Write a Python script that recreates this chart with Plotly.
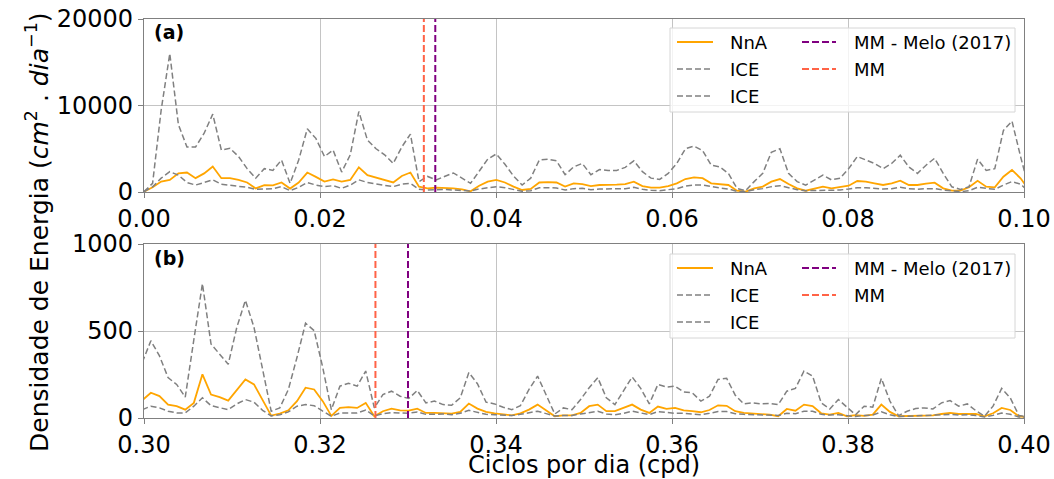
import plotly.graph_objects as go

# Spectral bins (resolution 1/1024 cpd)
bins_a = list(range(0, 104))
bins_b = list(range(307, 411))
freq_a = [k / 1024 for k in bins_a]
freq_b = [k / 1024 for k in bins_b]

# Panel (a): 0.00 - 0.10 cpd
nna_a = [40, 540, 1200, 1400, 2150, 2250, 1600, 2150, 2950, 1600,
         1600, 1400, 1100, 420, 800, 770, 1100, 400, 1100, 2250,
         1750, 1200, 1450, 1200, 1400, 2850, 1950, 1650, 1400, 1100,
         1850, 2250, 620, 420, 500, 500, 420, 310, 80, 730,
         1200, 1400, 1100, 620, 230, 350, 1100, 1150, 1100, 620,
         1000, 900, 690, 810, 810, 850, 900, 1200, 690, 500,
         500, 690, 1000, 1500, 1700, 1600, 1000, 920, 810, 150,
         40, 420, 620, 1200, 1500, 920, 420, 150, 420, 620,
         420, 540, 730, 1270, 1200, 1000, 810, 1000, 1300, 810,
         810, 960, 1080, 420, 150, 150, 540, 1300, 620, 540,
         1770, 2550, 1580, 230]
ice_hi_a = [40, 1000, 9500, 16000, 7800, 5200, 5200, 6800, 9000, 4850,
            5050, 4100, 2700, 1600, 2700, 2500, 3700, 1000, 3700, 7300,
            6200, 4100, 4850, 2300, 4300, 9300, 6000, 5000, 4300, 3300,
            5200, 6700, 1200, 1800, 1400, 1800, 2200, 1600, 1000, 2400,
            3800, 4400, 3200, 1850, 800, 1600, 3700, 3800, 3600, 2000,
            2900, 3300, 2000, 2600, 2500, 2500, 2850, 3600, 2350, 1600,
            1450, 2150, 3300, 5000, 5300, 4800, 3100, 2900, 2150, 420,
            150, 1200, 2150, 4600, 5000, 2150, 1200, 800, 1400, 1950,
            1400, 1600, 2700, 4100, 3700, 3300, 2700, 3300, 4250, 2900,
            2150, 3100, 3900, 2150, 600, 300, 600, 3800, 2500, 2700,
            7100, 8200, 4100, 300]
ice_lo_a = [40, 600, 1600, 2350, 1950, 1100, 800, 1100, 1400, 900,
            770, 700, 540, 310, 390, 390, 620, 150, 540, 1100,
            800, 620, 730, 420, 800, 1400, 1100, 900, 770, 620,
            900, 1000, 310, 230, 310, 310, 230, 190, 120, 350,
            500, 620, 500, 310, 80, 150, 500, 500, 460, 230,
            390, 420, 270, 350, 350, 350, 390, 540, 310, 190,
            150, 270, 390, 690, 800, 800, 620, 460, 350, 80,
            40, 270, 390, 620, 730, 460, 270, 150, 150, 230,
            230, 230, 350, 500, 500, 420, 350, 390, 540, 390,
            310, 390, 390, 230, 120, 40, 150, 540, 420, 310,
            800, 1200, 900, 40]

# Panel (b): 0.30 - 0.40 cpd
nna_b = [102, 145, 126, 77, 68, 48, 87, 251, 135, 120,
         100, 164, 222, 193, 106, 14, 25, 44, 97, 174,
         164, 97, 12, 58, 62, 58, 87, 10, 39, 54,
         44, 42, 54, 29, 29, 29, 25, 35, 83, 54,
         35, 27, 19, 15, 27, 48, 77, 42, 10, 15,
         15, 29, 68, 77, 39, 39, 58, 77, 48, 29,
         66, 52, 58, 44, 39, 33, 46, 73, 70, 39,
         29, 27, 25, 19, 10, 52, 42, 77, 68, 27,
         19, 29, 10, 17, 12, 19, 77, 35, 10, 12,
         14, 15, 15, 23, 29, 23, 25, 23, 10, 27,
         58, 46, 10, 4]
ice_hi_b = [320, 444, 357, 232, 193, 120, 450, 772, 425, 367,
            309, 521, 676, 521, 290, 39, 58, 164, 348, 545,
            502, 290, 48, 183, 200, 183, 270, 58, 135, 154,
            125, 112, 158, 87, 97, 77, 73, 116, 261, 197,
            91, 81, 62, 48, 71, 164, 241, 135, 23, 58,
            48, 106, 174, 232, 116, 77, 154, 236, 170, 81,
            193, 178, 183, 150, 145, 97, 125, 222, 228, 131,
            81, 87, 81, 83, 77, 154, 170, 270, 241, 87,
            52, 106, 62, 19, 68, 62, 228, 97, 14, 39,
            54, 58, 52, 87, 100, 68, 81, 42, 10, 68,
            170, 116, 15, 6]
ice_lo_b = [48, 68, 58, 39, 29, 29, 68, 116, 71, 58,
            48, 81, 106, 91, 44, 12, 19, 35, 68, 77,
            71, 39, 10, 29, 29, 29, 46, 12, 25, 31,
            29, 27, 35, 21, 21, 23, 19, 27, 44, 33,
            21, 19, 17, 14, 21, 31, 39, 25, 12, 15,
            15, 23, 33, 39, 23, 19, 27, 39, 29, 19,
            37, 31, 27, 27, 25, 19, 27, 37, 37, 25,
            21, 19, 19, 19, 15, 27, 25, 39, 39, 21,
            17, 19, 15, 8, 15, 17, 35, 19, 8, 10,
            12, 12, 14, 17, 21, 17, 19, 14, 6, 15,
            29, 21, 6, 4]

# Reference frequencies (cpd)
mm_melo = [0.0331, 0.3300]
mm_here = [0.0318, 0.3263]

x_ranges = [[0.0, 0.1], [0.3, 0.4]]
y_ranges = [[0, 20000], [0, 1000]]
x_ticks = [[0.00, 0.02, 0.04, 0.06, 0.08, 0.10], [0.30, 0.32, 0.34, 0.36, 0.38, 0.40]]
y_ticks = [[0, 10000, 20000], [0, 500, 1000]]
panel_labels = ["(a)", "(b)"]

FONT = "DejaVu Sans"
ORANGE = "#FFA500"
GRAY = "#808080"
PURPLE = "#800080"
TOMATO = "#FF6347"
ICE_DASH = "6px,3px"
MM_DASH = "7px,3px"

W, H = 1054, 479
ML, MR, MT, MB = 144, 30, 19, 61
PW, PH = W - ML - MR, H - MT - MB


def px_x(px):
    return (px - ML) / PW


def px_y(py):
    return (H - MB - py) / PH


fig = go.Figure()

panels = [
    (freq_a, nna_a, ice_hi_a, ice_lo_a),
    (freq_b, nna_b, ice_hi_b, ice_lo_b),
]

for i, (fr, nna, hi, lo) in enumerate(panels):
    xa = "x" if i == 0 else "x2"
    ya = "y" if i == 0 else "y2"
    fig.add_trace(go.Scatter(x=fr, y=nna, mode="lines", name="NnA",
                             line=dict(color=ORANGE, width=1.8), xaxis=xa, yaxis=ya))
    fig.add_trace(go.Scatter(x=fr, y=hi, mode="lines", name="ICE",
                             line=dict(color=GRAY, width=1.5, dash=ICE_DASH), xaxis=xa, yaxis=ya))
    fig.add_trace(go.Scatter(x=fr, y=lo, mode="lines", name="ICE",
                             line=dict(color=GRAY, width=1.5, dash=ICE_DASH), xaxis=xa, yaxis=ya))
    fig.add_trace(go.Scatter(x=[mm_melo[i], mm_melo[i]], y=y_ranges[i], mode="lines",
                             name="MM - Melo (2017)",
                             line=dict(color=PURPLE, width=2, dash=MM_DASH), xaxis=xa, yaxis=ya))
    fig.add_trace(go.Scatter(x=[mm_here[i], mm_here[i]], y=y_ranges[i], mode="lines",
                             name="MM",
                             line=dict(color=TOMATO, width=2, dash=MM_DASH), xaxis=xa, yaxis=ya))

axis_common = dict(
    showline=True, linecolor=GRAY, linewidth=1.2, mirror=True,
    showgrid=True, gridcolor="#c4c4c4", gridwidth=1,
    zeroline=False, automargin=False,
    ticks="outside", ticklen=5, tickwidth=1, tickcolor=GRAY,
    tickfont=dict(family=FONT, size=24, color="black"),
)

top_a, bot_a = 19, 192
top_b, bot_b = 244, 418

fig.update_layout(
    width=W, height=H,
    margin=dict(l=ML, r=MR, t=MT, b=MB, autoexpand=False),
    paper_bgcolor="white", plot_bgcolor="white",
    font=dict(family=FONT, size=24, color="black"),
    showlegend=False,
    xaxis=dict(domain=[0, 1], anchor="y", range=x_ranges[0], tickvals=x_ticks[0],
               tickformat=".2f", **axis_common),
    yaxis=dict(domain=[px_y(bot_a), px_y(top_a)], anchor="x", range=y_ranges[0],
               tickvals=y_ticks[0], tickformat="d", **axis_common),
    xaxis2=dict(domain=[0, 1], anchor="y2", range=x_ranges[1], tickvals=x_ticks[1],
                tickformat=".2f", **axis_common),
    yaxis2=dict(domain=[px_y(bot_b), px_y(top_b)], anchor="x2", range=y_ranges[1],
                tickvals=y_ticks[1], tickformat="d", **axis_common),
)

# Legend boxes: two columns per panel
legend_cols = [
    [("NnA", ORANGE, "solid", 1.8), ("ICE", GRAY, ICE_DASH, 1.5), ("ICE", GRAY, ICE_DASH, 1.5)],
    [("MM - Melo (2017)", PURPLE, MM_DASH, 2), ("MM", TOMATO, MM_DASH, 2)],
]
col_lines = [(677, 713, 728), (802, 836, 852)]
row_y = [[42, 69, 96], [268, 295, 322]]
frame_boxes = [(28, 112), (254, 338)]

for p in range(2):
    t, b = frame_boxes[p]
    fig.add_shape(type="rect", xref="paper", yref="paper",
                  x0=px_x(670), x1=px_x(1015), y0=px_y(b), y1=px_y(t),
                  line=dict(color="#d6d6d6", width=1),
                  fillcolor="rgba(255,255,255,0.8)", layer="above")
    for c, entries in enumerate(legend_cols):
        lx0, lx1, tx = col_lines[c]
        for r, (name, color, dash, lw) in enumerate(entries):
            yy = px_y(row_y[p][r])
            fig.add_shape(type="line", xref="paper", yref="paper",
                          x0=px_x(lx0), x1=px_x(lx1), y0=yy, y1=yy,
                          line=dict(color=color, width=lw, dash=dash), layer="above")
            fig.add_annotation(text=name, xref="paper", yref="paper",
                               x=px_x(tx), y=yy, xanchor="left", yanchor="middle",
                               showarrow=False,
                               font=dict(family=FONT, size=18, color="black"))

# Panel tags
for i, lab in enumerate(panel_labels):
    fig.add_annotation(text="<b>%s</b>" % lab, xref="paper", yref="paper",
                       x=px_x(152), y=px_y([32, 258][i]), xanchor="left", yanchor="middle",
                       showarrow=False, font=dict(family=FONT, size=19, color="black"))

# Axis titles
fig.add_annotation(text="Ciclos por dia (cpd)", xref="paper", yref="paper",
                   x=0.5, y=px_y(465), xanchor="center", yanchor="middle",
                   showarrow=False, font=dict(family=FONT, size=24, color="black"))
fig.add_annotation(text="Densidade de Energia (<i>cm</i><sup>2</sup> . <i>dia</i><sup>\u22121</sup>)",
                   xref="paper", yref="paper", textangle=-90,
                   x=px_x(37), y=px_y(232), xanchor="center", yanchor="middle",
                   showarrow=False, font=dict(family=FONT, size=25, color="black"))

fig.write_html("out.html")
